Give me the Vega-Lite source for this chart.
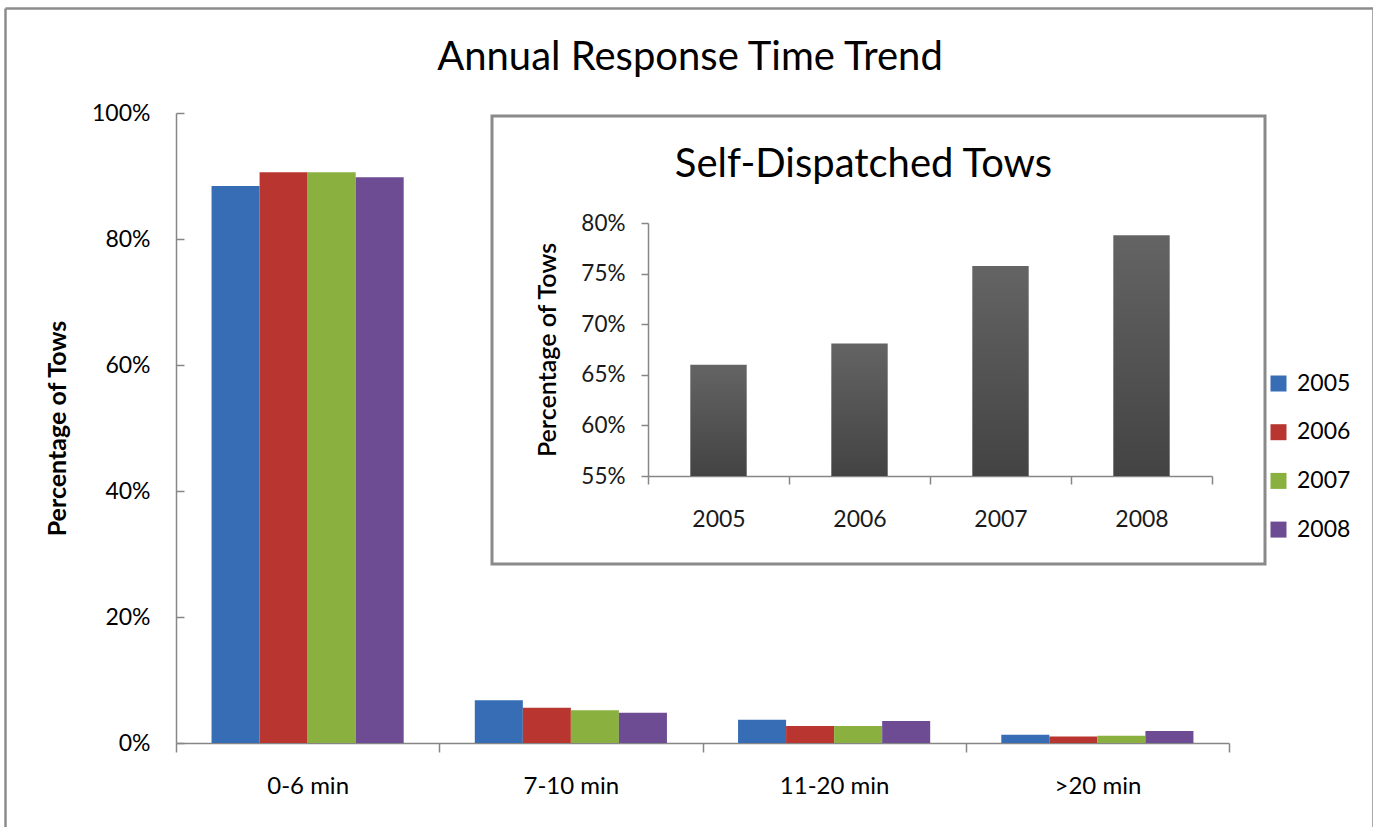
{
  "$schema": "https://vega.github.io/schema/vega-lite/v6.json",
  "padding": {"left": 5, "top": 8, "right": 0, "bottom": 0},
  "background": "white",
  "config": {
    "font": "Lato",
    "axis": {"domainColor": "#868686", "tickColor": "#868686", "domainWidth": 1.5, "tickWidth": 1.5, "grid": false, "labelColor": "#000000", "titleColor": "#000000"},
    "legend": {"padding": 0}
  },
  "bounds": "flush",
  "spacing": 0,
  "hconcat": [
    {
      "width": 487,
      "height": 830,
      "view": {"stroke": null},
      "title": {
        "text": "Annual Response Time Trend",
        "fontSize": 40,
        "fontWeight": "normal",
        "font": "Lato",
        "anchor": "middle",
        "baseline": "alphabetic",
        "dx": 441.5,
        "offset": -102
      },
      "resolve": {
        "scale": {"x": "independent", "y": "independent"},
        "axis": {"x": "independent", "y": "independent"}
      },
      "layer": [
        {
          "data": {
            "values": [
              {"range": "0-6 min", "year": "2005", "pct": 0.884},
              {"range": "0-6 min", "year": "2006", "pct": 0.906},
              {"range": "0-6 min", "year": "2007", "pct": 0.906},
              {"range": "0-6 min", "year": "2008", "pct": 0.898},
              {"range": "7-10 min", "year": "2005", "pct": 0.068},
              {"range": "7-10 min", "year": "2006", "pct": 0.056},
              {"range": "7-10 min", "year": "2007", "pct": 0.052},
              {"range": "7-10 min", "year": "2008", "pct": 0.048},
              {"range": "11-20 min", "year": "2005", "pct": 0.037},
              {"range": "11-20 min", "year": "2006", "pct": 0.027},
              {"range": "11-20 min", "year": "2007", "pct": 0.027},
              {"range": "11-20 min", "year": "2008", "pct": 0.035},
              {"range": ">20 min", "year": "2005", "pct": 0.013},
              {"range": ">20 min", "year": "2006", "pct": 0.0105},
              {"range": ">20 min", "year": "2007", "pct": 0.0115},
              {"range": ">20 min", "year": "2008", "pct": 0.019}
            ]
          },
          "mark": {"type": "bar"},
          "encoding": {
            "x": {
              "field": "range",
              "type": "nominal",
              "sort": ["0-6 min", "7-10 min", "11-20 min", ">20 min"],
              "scale": {"range": [171, 1224], "paddingInner": 0, "paddingOuter": 0},
              "axis": {
                "title": null,
                "orient": "bottom",
                "offset": -95,
                "labelAngle": 0,
                "labelFontSize": 24,
                "tickSize": 9,
                "tickBand": "extent",
                "labelPadding": 22
              }
            },
            "xOffset": {
              "field": "year",
              "type": "nominal",
              "scale": {"paddingInner": 0, "paddingOuter": 0.74}
            },
            "y": {
              "field": "pct",
              "type": "quantitative",
              "scale": {"domain": [0, 1], "range": [735, 105], "nice": false},
              "axis": {
                "title": "Percentage of Tows",
                "titleFontSize": 25,
                "titleFontWeight": "bold",
                "titleX": -119,
                "titleY": 420,
                "titleAngle": 270,
                "titleAlign": "center",
                "titleBaseline": "middle",
                "orient": "right",
                "offset": -316,
                "values": [0, 0.2, 0.4, 0.6, 0.8, 1],
                "format": ".0%",
                "labelFontSize": 23,
                "labelAlign": "right",
                "tickSize": 8,
                "labelPadding": -34
              }
            },
            "color": {
              "field": "year",
              "type": "nominal",
              "scale": {"range": ["#366db5", "#b8362f", "#8ab040", "#6d4c94"]},
              "legend": {
                "title": null,
                "orient": "none",
                "legendX": 1262,
                "legendY": 364,
                "symbolType": "square",
                "symbolSize": 256,
                "symbolStrokeWidth": 0,
                "symbolOpacity": 1,
                "labelFontSize": 23,
                "labelOffset": 7,
                "rowPadding": 24.7
              }
            }
          }
        },
        {
          "data": {"values": []},
          "mark": {"type": "point"},
          "encoding": {
            "x": {
              "field": "fx",
              "type": "quantitative",
              "scale": {"domain": [0, 1], "range": [0, 1368]},
              "axis": {"orient": "top", "offset": 0, "ticks": false, "labels": false, "title": null, "domainColor": "#8c8c8c", "domainWidth": 2.5}
            },
            "y": {
              "field": "fy",
              "type": "quantitative",
              "scale": {"domain": [0, 1], "range": [830, 0]},
              "axis": {"orient": "left", "offset": 0, "ticks": false, "labels": false, "title": null, "domainColor": "#8c8c8c", "domainWidth": 2.5}
            }
          }
        },
        {
          "data": {"values": []},
          "mark": {"type": "point"},
          "encoding": {
            "y": {
              "field": "fy",
              "type": "quantitative",
              "scale": {"domain": [0, 1], "range": [830, 0]},
              "axis": {"orient": "left", "offset": -1368, "ticks": false, "labels": false, "title": null, "domainColor": "#8c8c8c", "domainWidth": 2.5}
            }
          }
        }
      ]
    },
    {
      "bounds": "flush",
      "spacing": 0,
      "vconcat": [
        {
          "width": 10,
          "height": 108,
          "view": {"stroke": null},
          "data": {"values": []},
          "mark": "point",
          "encoding": {}
        },
        {
          "width": 773,
          "height": 448,
          "view": {"stroke": "#8a8a8a", "strokeWidth": 3, "fill": "white"},
          "title": {
            "text": "Self-Dispatched Tows",
            "fontSize": 40,
            "fontWeight": "normal",
            "font": "Lato",
            "anchor": "middle",
            "baseline": "alphabetic",
            "dx": -15,
            "offset": -101
          },
          "data": {
            "values": [
              {"year": "2005", "pct": 0.66},
              {"year": "2006", "pct": 0.681},
              {"year": "2007", "pct": 0.7575},
              {"year": "2008", "pct": 0.788}
            ]
          },
          "mark": {
            "type": "bar",
            "width": {"band": 0.4},
            "color": {
              "gradient": "linear",
              "x1": 0, "y1": 0, "x2": 0, "y2": 1,
              "stops": [
                {"offset": 0, "color": "#646464"},
                {"offset": 1, "color": "#434343"}
              ]
            }
          },
          "encoding": {
            "x": {
              "field": "year",
              "type": "nominal",
              "scale": {"range": [156, 720], "paddingInner": 0, "paddingOuter": 0},
              "axis": {
                "title": null,
                "orient": "bottom",
                "offset": -88,
                "labelAngle": 0,
                "labelFontSize": 23,
                "labelColor": "#1a1a1a",
                "tickSize": 8,
                "tickBand": "extent",
                "labelPadding": 24
              }
            },
            "y": {
              "field": "pct",
              "type": "quantitative",
              "scale": {"domain": [0.55, 0.8], "range": [360, 107], "nice": false, "zero": false},
              "axis": {
                "title": "Percentage of Tows",
                "titleFontSize": 25,
                "titleFontWeight": 600,
                "titleX": -101,
                "titleY": 233.5,
                "titleAngle": 270,
                "titleAlign": "center",
                "titleBaseline": "middle",
                "orient": "left",
                "offset": -156,
                "values": [0.55, 0.6, 0.65, 0.7, 0.75, 0.8],
                "format": ".0%",
                "labelFontSize": 22.5,
                "labelColor": "#1a1a1a",
                "tickSize": 7,
                "labelPadding": 16
              }
            },
            "y2": {"datum": 0.55}
          }
        }
      ]
    }
  ]
}
